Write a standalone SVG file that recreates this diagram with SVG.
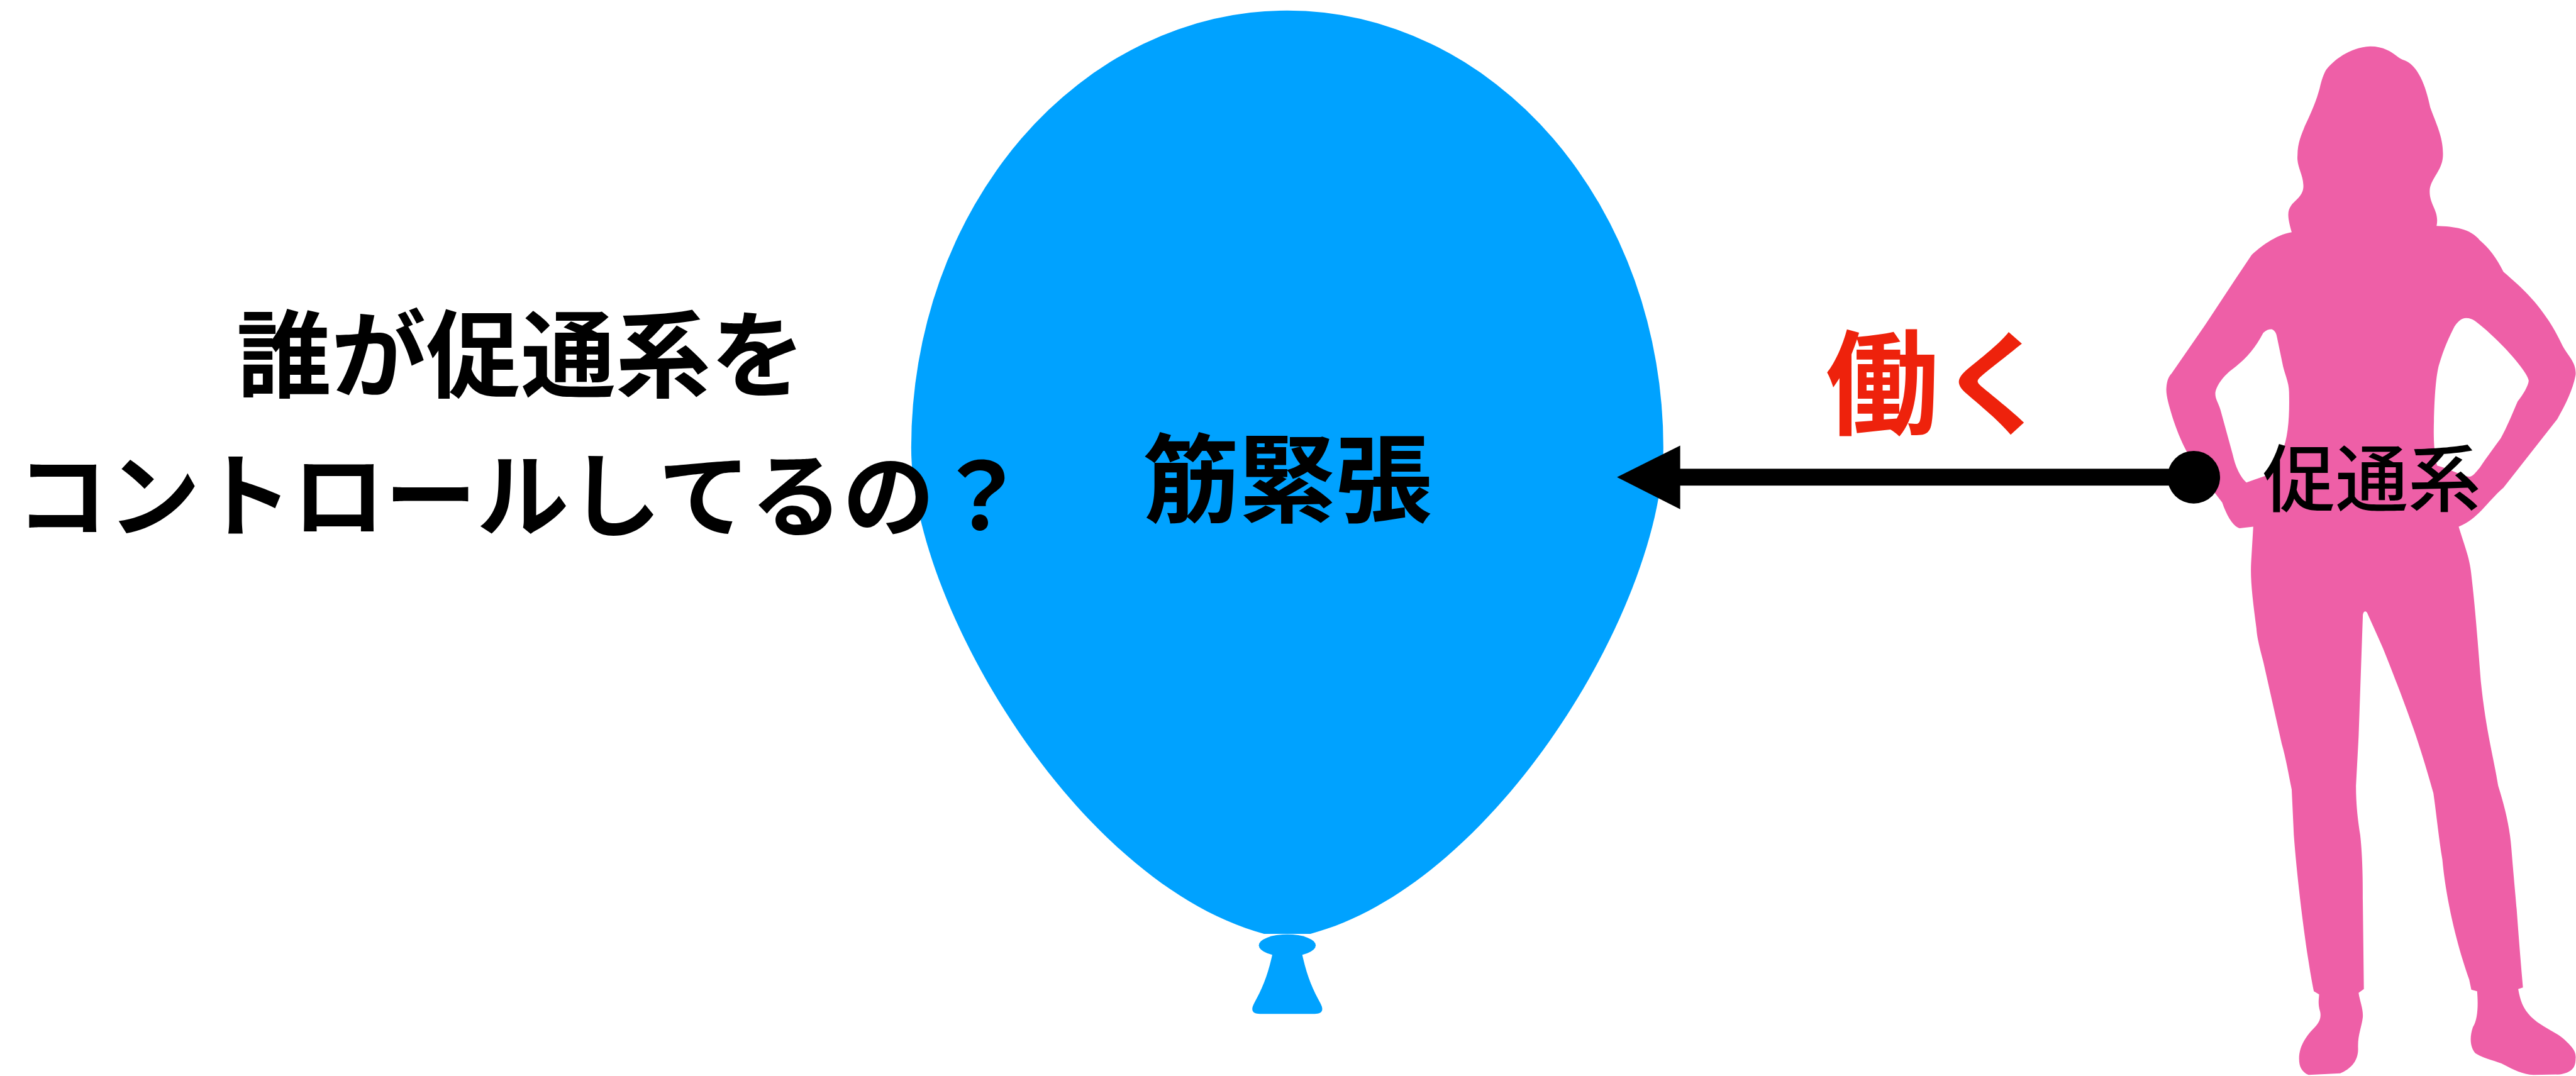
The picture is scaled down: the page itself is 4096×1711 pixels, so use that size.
<svg xmlns="http://www.w3.org/2000/svg" width="4096" height="1711" viewBox="0 0 4096 1711">
  <style>
    .jp { font-family: "Noto Sans CJK JP", "Noto Sans CJK SC", sans-serif; }
    .heavy { font-weight: 700; }
    .balloon { fill: #00A2FF; }
    .person { fill: #EE5FA7; fill-rule: evenodd; }
    .ink { fill: #000000; }
    .red { fill: #EE220C; }
  </style>
  <rect width="4096" height="1711" fill="#FFFFFF"/>
  <!-- drawing is laid out in a 4891 x 2043 frame and scaled to the canvas -->
  <g transform="scale(0.8375)">
    <!-- balloon: muscle tension -->
    <g id="balloon">
      <path class="balloon" d="M2444,20 A714,830 0 0 1 3158,850 C3158,1150 2838,1680 2488,1773 L2400,1773 C2050,1680 1730,1150 1730,850 A714,830 0 0 1 2444,20 Z"/>
      <ellipse class="balloon" cx="2444" cy="1795" rx="54" ry="21"/>
      <path class="balloon" d="M2416,1810 C2408,1850 2396,1878 2381,1905 C2373,1920 2380,1925 2392,1925 L2496,1925 C2508,1925 2515,1920 2507,1905 C2492,1878 2480,1850 2472,1810 Z"/>
      <text class="jp heavy ink" x="2444" y="978" font-size="183" text-anchor="middle">筋緊張</text>
    </g>

    <!-- person silhouette: facilitation system -->
    <g id="person">
      <path class="person" d="M4500,88 C4525,88 4540,98 4551,107 C4556,111 4560,113 4566,115 C4590,125 4605,160 4614,204 C4625,235 4640,262 4638,298 C4636,325 4614,340 4613,362 C4612,390 4632,400 4626,429 C4660,430 4690,434 4708,456 C4725,470 4740,490 4753,516 C4790,548 4830,582 4865,656 C4875,675 4892,688 4890,712 C4885,740 4870,770 4855,796 L4753,926 C4720,955 4705,985 4668,1000 C4680,1040 4690,1060 4693,1100 C4700,1160 4705,1230 4710,1293 C4720,1390 4735,1440 4743,1492 C4755,1530 4765,1570 4768,1610 C4772,1660 4776,1700 4778,1725 C4782,1780 4786,1830 4790,1875 L4781,1878 C4785,1900 4790,1915 4805,1930 C4825,1950 4855,1960 4870,1975 C4880,1985 4892,1995 4890,2010 C4890,2030 4880,2036 4860,2040 L4810,2041 C4790,2040 4770,2030 4755,2022 C4740,2014 4720,2012 4700,2000 C4690,1990 4688,1970 4695,1950 C4705,1935 4705,1905 4703,1882 L4692,1879 L4688,1860 C4670,1810 4645,1720 4637,1632 C4630,1590 4625,1540 4620,1506 C4610,1470 4595,1420 4582,1383 C4560,1320 4540,1270 4524,1230 L4494,1163 C4490,1158 4486,1162 4486,1170 L4478,1399 L4473,1492 C4473,1530 4477,1560 4481,1585 C4486,1630 4486,1680 4486,1712 L4488,1878 L4478,1885 C4480,1900 4487,1915 4486,1931 C4484,1950 4476,1965 4477,1990 C4478,2015 4462,2030 4443,2038 L4383,2041 C4370,2035 4365,2025 4365,2010 C4365,1985 4380,1965 4395,1950 C4405,1940 4407,1930 4405,1921 C4400,1905 4403,1895 4403,1888 L4393,1882 C4380,1820 4362,1680 4355,1585 L4351,1499 C4345,1470 4340,1440 4332,1412 L4297,1256 C4290,1230 4285,1210 4284,1193 C4277,1140 4272,1100 4274,1067 L4278,1000 L4252,1003 C4240,1000 4228,980 4219,954 L4206,937 L4175,910 L4151,856 C4140,835 4132,815 4124,790 C4118,770 4112,750 4113,737 C4114,722 4118,714 4123,709 L4186,618 L4242,533 L4275,484 C4290,470 4320,446 4351,441 C4342,410 4343,400 4350,390 C4360,378 4375,370 4373,350 C4372,330 4360,315 4362,295 C4362,270 4370,255 4376,239 C4390,210 4398,190 4404,168 C4408,150 4412,140 4416,133 C4430,115 4460,90 4500,88 Z M4313,625 C4320,628 4322,634 4323,640 L4333,688 C4337,710 4346,725 4346,745 C4347,790 4345,830 4332,860 C4325,880 4315,895 4305,902 L4265,916 C4255,908 4245,890 4239,863 L4216,779 C4212,765 4206,758 4206,748 C4206,735 4220,715 4237,702 C4260,685 4280,665 4297,632 C4302,627 4307,625 4313,625 Z M4682,604 C4690,604 4695,607 4700,610 C4720,625 4735,640 4748,653 C4770,675 4800,710 4801,723 C4800,733 4790,750 4780,762 C4770,785 4760,810 4748,832 C4735,850 4720,870 4708,888 C4700,897 4695,905 4688,905 C4675,903 4660,895 4640,888 L4627,884 C4621,860 4620,830 4621,800 C4622,760 4624,720 4630,695 C4640,660 4650,640 4660,620 C4668,608 4675,604 4682,604 Z"/>
      <text class="jp ink" x="4503" y="960" font-size="138" font-weight="500" text-anchor="middle">促通系</text>
    </g>

    <!-- question text -->
    <g id="question">
      <text class="jp heavy ink" x="989" y="740" font-size="180" text-anchor="middle">誰が促通系を</text>
      <text class="jp heavy ink" x="990" y="1005" font-size="175" text-anchor="middle">コントロールしてるの？</text>
    </g>

    <!-- connector: facilitation acts on the balloon -->
    <g id="connectors">
      <rect class="ink" x="3185" y="890" width="980" height="32"/>
      <polygon class="ink" points="3070,906 3190,846 3190,967"/>
      <circle class="ink" cx="4165" cy="906" r="50"/>
      <text class="jp heavy red" x="3466" y="807" font-size="215">働く</text>
    </g>
  </g>
</svg>
